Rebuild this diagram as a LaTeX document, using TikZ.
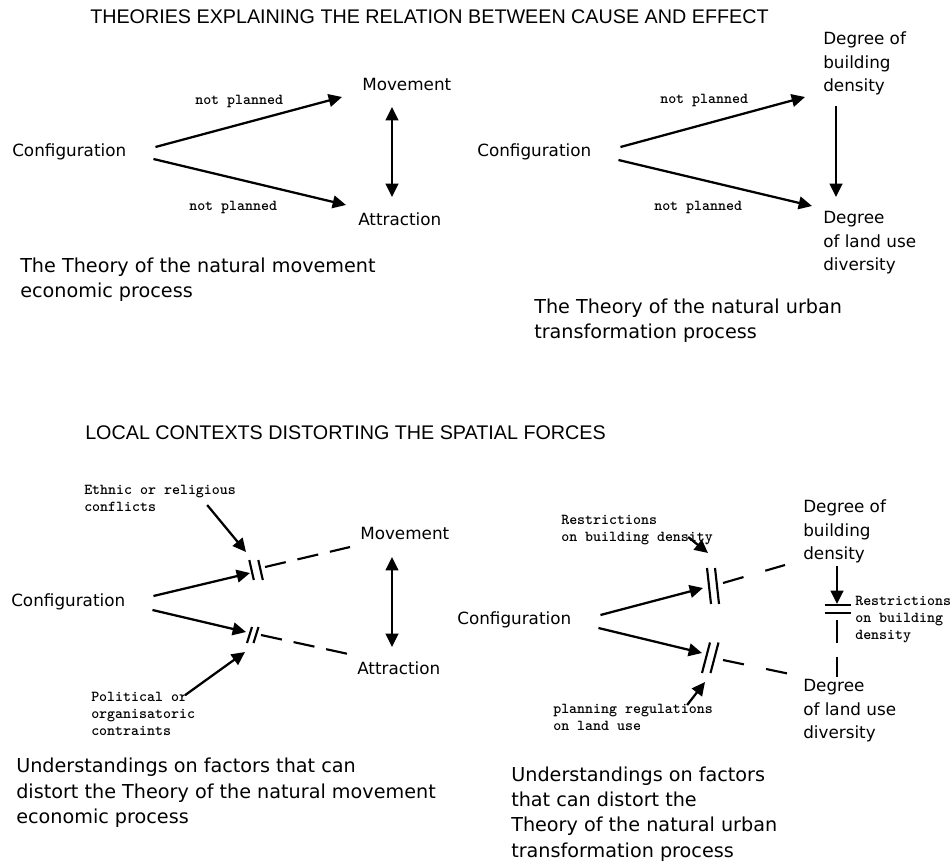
\documentclass[tikz,border=0pt]{standalone}
\usepackage{fontspec}
\setmainfont{DejaVu Sans}
\newfontfamily\headfont{Liberation Sans}
\usetikzlibrary{%
    arrows.meta,
    calc,
    positioning
}
\tikzset{
    term/.style={inner sep=0pt, anchor=west, align=left,
                 font=\fontsize{12.6}{17.6}\selectfont},
    note/.style={inner sep=0pt, anchor=west, align=left,
                 font=\ttfamily\bfseries\fontsize{11.4}{12.75}\selectfont},
    capt/.style={inner sep=0pt, anchor=west, align=left,
                 font=\fontsize{14.4}{19}\selectfont},
    heading/.style={inner sep=0pt, anchor=west,
                    font=\headfont\fontsize{14.8}{18}\selectfont},
    cause/.style={line width=1.7pt, -{Triangle[length=10pt,width=9.5pt]}},
    both/.style={line width=1.7pt,
                 {Triangle[length=10pt,width=9.5pt]}-{Triangle[length=10pt,width=9.5pt]}},
    broken/.style={line width=1.6pt, dash pattern=on 16pt off 9pt},
    slash/.style={line width=1.6pt}
}

\begin{document}
\begin{tikzpicture}[x=0.75pt, y=-0.75pt]
    \useasboundingbox (0,0) rectangle (952,863);

    % theories
    \node[heading] (headA) at (90,17)
        {THEORIES EXPLAINING THE RELATION BETWEEN CAUSE AND EFFECT};

    \node[term] (confA) at (12,152)  {Configuration};
    \node[term] (moveA) at (362,84)  {Movement};
    \node[term] (attrA) at (358,219) {Attraction};
    \node[note] (planA1) at (195,101) {not planned};
    \node[note] (planA2) at (189,207) {not planned};
    \draw[cause] ($(confA.east)+(29,-5)$) -- ($(moveA.west)+(-20,13)$);
    \draw[cause] ($(confA.east)+(27,7)$)  -- ($(attrA.west)+(-12,-14)$);
    \draw[both]  ($(moveA.west)+(30,23)$) -- ($(attrA.west)+(34,-22)$);
    \node[capt] (captA) at (20,280)
        {The Theory of the natural movement\\economic process};

    \node[term] (confB) at (477,152)  {Configuration};
    \node[term] (densB) at (823,63.5) {Degree of\\building\\density};
    \node[term] (divB)  at (823,243)  {Degree\\of land use\\diversity};
    \node[note] (planB1) at (660,100) {not planned};
    \node[note] (planB2) at (654,207) {not planned};
    \draw[cause] ($(confB.east)+(29,-5)$) -- ($(densB.west)+(-18,33.5)$);
    \draw[cause] ($(confB.east)+(27,8)$)  -- ($(divB.west)+(-11,-37)$);
    \draw[cause] ($(densB.west)+(13,42.5)$) -- ($(divB.west)+(13,-46)$);
    \node[capt] (captB) at (534,321)
        {The Theory of the natural urban\\transformation process};

    % local contexts
    \node[heading] (headB) at (85,433)
        {LOCAL CONTEXTS DISTORTING THE SPATIAL FORCES};

    \node[term] (confC) at (11,602)  {Configuration};
    \node[term] (moveC) at (360,533) {Movement};
    \node[term] (attrC) at (357,668) {Attraction};
    \node[note] (ethn) at (84,498.5) {Ethnic or religious\\conflicts};
    \node[note] (poli) at (91,714)   {Political or\\organisatoric\\contraints};
    \coordinate (cutC1) at (256,570);
    \coordinate (cutC2) at (253,635);
    \draw[cause]  ($(confC.east)+(28,-6)$) -- ($(cutC1)+(-6,3)$);
    \draw[cause]  ($(confC.east)+(27,8)$)  -- ($(cutC2)+(-7,-3)$);
    \draw[broken] ($(cutC1)+(9,-3)$) -- ($(moveC.west)+(-10,14)$);
    \draw[broken] ($(cutC2)+(8,0)$)  -- ($(attrC.west)+(-4,-13)$);
    \foreach \dx in {-4.7,4.3}
        \draw[slash] ($(cutC1)+(\dx-2,-10)$) -- ($(cutC1)+(\dx+2.5,10)$);
    \foreach \dx in {-3.5,3}
        \draw[slash] ($(cutC2)+(\dx-2.5,8)$) -- ($(cutC2)+(\dx+2.5,-8)$);
    \draw[cause] ($(ethn.east)+(-29,6.5)$) -- ($(cutC1)+(-10,-18)$);
    \draw[cause] ($(poli.east)+(-10,-19)$) -- ($(cutC2)+(-8,17)$);
    \draw[both]  ($(moveC.west)+(32,24)$) -- ($(attrC.west)+(35,-21)$);
    \node[capt] (captC) at (16,793)
        {Understandings on factors that can\\distort the Theory of the natural movement\\economic process};

    \node[term] (confD) at (457,620)  {Configuration};
    \node[term] (densD) at (803,531.5) {Degree of\\building\\density};
    \node[term] (divD)  at (803,711)  {Degree\\of land use\\diversity};
    \node[note] (restA) at (561,530.5) {Restrictions\\on building density};
    \node[note] (regu)  at (553,717)   {planning regulations\\on land use};
    \node[note] (restB) at (855,620)   {Restrictions\\on building\\density};
    \coordinate (cutD1) at (713,586);
    \coordinate (cutD2) at (710,658);
    \coordinate (cutD3) at (837,609);
    \draw[cause]  ($(confD.east)+(29,-5)$) -- ($(cutD1)+(-10,2)$);
    \draw[cause]  ($(confD.east)+(27,8)$)  -- ($(cutD2)+(-8,-5)$);
    \draw[broken, dash pattern=on 16pt off 17pt]
        ($(cutD1)+(10,-3)$) -- ($(densD.west)+(-18,33.5)$);
    \draw[broken, dash pattern=on 16pt off 17pt]
        ($(cutD2)+(13,2)$) -- ($(divD.west)+(-13,-37)$);
    \foreach \dx in {-4,4}
        \draw[slash] ($(cutD1)+(\dx-2,-18)$) -- ($(cutD1)+(\dx+2,18)$);
    \foreach \dx in {-4,4.5}
        \draw[slash] ($(cutD2)+(\dx-4,15)$) -- ($(cutD2)+(\dx+4,-15.5)$);
    \draw[cause] ($(restA.east)+(-25,6.5)$) -- ($(cutD1)+(-5,-33)$);
    \draw[cause] ($(regu.east)+(-26,-12)$)  -- ($(cutD2)+(-5,24)$);
    \draw[cause] ($(densD.west)+(34,34)$) -- ($(cutD3)+(0,-5)$);
    \foreach \dy in {-4,4}
        \draw[slash] ($(cutD3)+(-12,\dy)$) -- ($(cutD3)+(14,\dy)$);
    \draw[broken, dash pattern=on 17pt off 10.5pt]
        ($(cutD3)+(0,11)$) -- ($(divD.west)+(34,-34)$);
    \node[capt] (captD) at (511,814)
        {Understandings on factors\\that can distort the\\Theory of the natural urban\\transformation process};
\end{tikzpicture}
\end{document}
